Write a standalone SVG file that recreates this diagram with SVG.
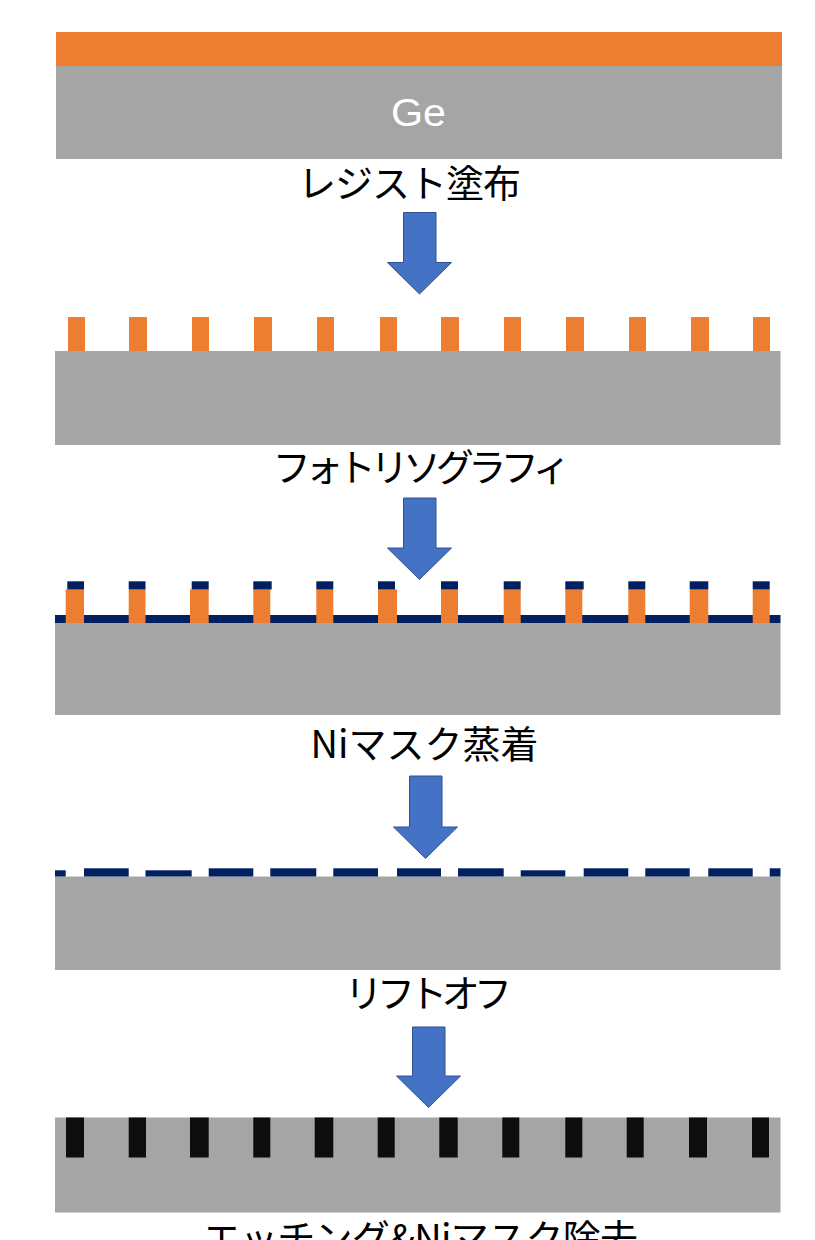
<svg xmlns="http://www.w3.org/2000/svg" width="815" height="1240" viewBox="0 0 815 1240">
<style>
.ge{fill:#a5a5a5}
.re{fill:#ed7d31}
.ni{fill:#002060}
.bk{fill:#0d0d0d}
.ar{fill:#4472c4;stroke:#2f528f;stroke-width:1}
.jp{font-family:"Noto Sans CJK JP","Liberation Sans",sans-serif;font-size:38px;fill:#000;text-anchor:middle}
</style>
<rect width="815" height="1240" fill="#fff"/>
<g id="step1">
<rect class="re" x="56" y="32" width="726" height="34"/>
<rect class="ge" x="56" y="66" width="726" height="93"/>
<text x="418.500" y="126" font-family="Liberation Sans, sans-serif" font-size="38" fill="#fff" text-anchor="middle" textLength="55" lengthAdjust="spacingAndGlyphs">Ge</text>
</g>
<g id="label1"><text class="jp" x="409" y="197" letter-spacing="-1">レジスト塗布</text></g>
<g id="step2">
<rect class="ge" x="55" y="351" width="725.500" height="94"/>
<g class="re">
<rect x="68" y="317" width="17" height="34"/><rect x="129" y="317" width="18" height="34"/><rect x="192" y="317" width="17" height="34"/><rect x="254" y="317" width="18" height="34"/><rect x="317" y="317" width="17" height="34"/><rect x="380" y="317" width="17" height="34"/><rect x="441" y="317" width="18" height="34"/><rect x="504" y="317" width="17" height="34"/><rect x="566" y="317" width="18" height="34"/><rect x="629" y="317" width="17" height="34"/><rect x="691" y="317" width="18" height="34"/><rect x="753" y="317" width="17" height="34"/>
</g>
</g>
<g id="label2"><text class="jp" x="419" y="481" letter-spacing="-5.400">フォトリソグラフィ</text></g>
<g id="step3">
<rect class="ge" x="55" y="623" width="725.500" height="92"/>
<rect class="ni" x="55" y="615" width="725.500" height="8"/>
<g class="re">
<rect x="65.700" y="589.500" width="18.300" height="33.500"/><rect x="128.700" y="589.500" width="16.800" height="33.500"/><rect x="190" y="589.500" width="18.700" height="33.500"/><rect x="253.300" y="589.500" width="17" height="33.500"/><rect x="316.300" y="589.500" width="17" height="33.500"/><rect x="378" y="589.500" width="19" height="33.500"/><rect x="441" y="589.500" width="17" height="33.500"/><rect x="503.700" y="589.500" width="17" height="33.500"/><rect x="565.300" y="589.500" width="17" height="33.500"/><rect x="628.300" y="589.500" width="17" height="33.500"/><rect x="689.700" y="589.500" width="18.600" height="33.500"/><rect x="752.700" y="589.500" width="17" height="33.500"/>
</g>
<g class="ni">
<rect x="67.300" y="581.300" width="16.700" height="8.200"/><rect x="128.700" y="581.300" width="16.800" height="8.200"/><rect x="191.700" y="581.300" width="17" height="8.200"/><rect x="253.300" y="581.300" width="18.400" height="8.200"/><rect x="316.300" y="581.300" width="17" height="8.200"/><rect x="378" y="581.300" width="17" height="8.200"/><rect x="441" y="581.300" width="17" height="8.200"/><rect x="503.700" y="581.300" width="17" height="8.200"/><rect x="565.300" y="581.300" width="18.400" height="8.200"/><rect x="628.300" y="581.300" width="17" height="8.200"/><rect x="689.700" y="581.300" width="18.600" height="8.200"/><rect x="752.700" y="581.300" width="17" height="8.200"/>
</g>
</g>
<g id="label3"><text class="jp" x="424.500" y="758">Niマスク蒸着</text></g>
<g id="step4">
<rect class="ge" x="55" y="876.500" width="725.500" height="93.500"/>
<g class="ni">
<rect x="55" y="870.300" width="10.700" height="6.200"/><rect x="84" y="868.300" width="44.700" height="8.200"/><rect x="145.500" y="870.300" width="46.200" height="6.200"/><rect x="208.700" y="868.300" width="44.600" height="8.200"/><rect x="270.300" y="868.300" width="46" height="8.200"/><rect x="333.300" y="868.300" width="44.700" height="8.200"/><rect x="397" y="868.300" width="44" height="8.200"/><rect x="458" y="868.300" width="45.700" height="8.200"/><rect x="520.700" y="870.300" width="44.600" height="6.200"/><rect x="583.700" y="868.300" width="44.600" height="8.200"/><rect x="645.300" y="868.300" width="44.400" height="8.200"/><rect x="708.300" y="868.300" width="44.400" height="8.200"/><rect x="769.700" y="868.300" width="10.800" height="8.200"/>
</g>
</g>
<g id="label4"><text class="jp" x="425.500" y="1007" letter-spacing="-5.700">リフトオフ</text></g>
<g id="step5">
<rect class="ge" x="55" y="1117.500" width="725.500" height="95"/>
<g class="bk">
<rect x="66" y="1117.500" width="18" height="40"/><rect x="128.700" y="1117.500" width="17.300" height="40"/><rect x="190" y="1117.500" width="18.700" height="40"/><rect x="253.300" y="1117.500" width="17" height="40"/><rect x="314.700" y="1117.500" width="18.600" height="40"/><rect x="377.700" y="1117.500" width="17" height="40"/><rect x="439.300" y="1117.500" width="18.400" height="40"/><rect x="502.300" y="1117.500" width="17" height="40"/><rect x="565.300" y="1117.500" width="17" height="40"/><rect x="626.700" y="1117.500" width="17" height="40"/><rect x="689" y="1117.500" width="18" height="40"/><rect x="752" y="1117.500" width="17" height="40"/>
</g>
</g>
<g id="label5"><text class="jp" x="420" y="1252" letter-spacing="-0.700">エッチング&amp;Niマスク除去</text></g>
<g id="connectors">
<path class="ar" d="M403.500 212.500H436V262.500H451.500L419.500 294L387.500 262.500H403.500Z"/>
<path class="ar" d="M403.500 498H436V548H451.500L419.500 579.500L387.500 548H403.500Z"/>
<path class="ar" d="M409.500 776H442V827H457.500L425.500 858.500L393.500 827H409.500Z"/>
<path class="ar" d="M412.500 1027H445V1076H460.500L428.500 1107.500L396.500 1076H412.500Z"/>
</g>
</svg>
